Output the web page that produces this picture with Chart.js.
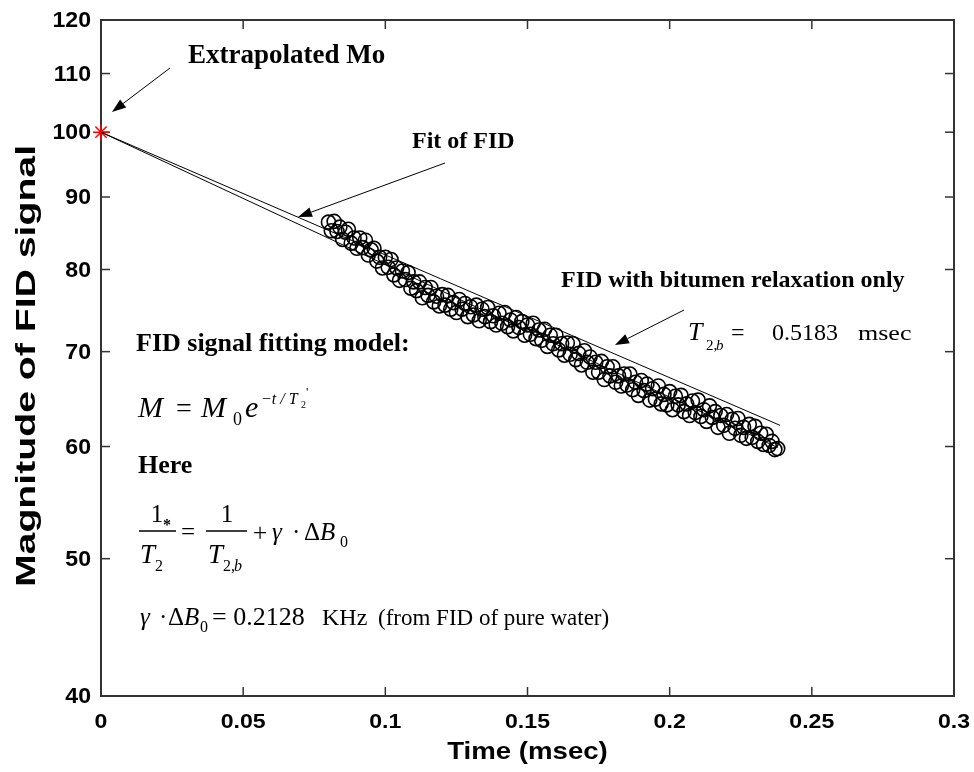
<!DOCTYPE html>
<html>
<head>
<meta charset="utf-8">
<script src="https://cdn.jsdelivr.net/npm/chart.js@4.4.1/dist/chart.umd.min.js"></script>
<style>
html, body { margin: 0; padding: 0; background: #fff; }
canvas { display: block; }
</style>
</head>
<body>
<canvas id="chart" width="974" height="772"></canvas>
<script>
// FID magnitude, one sample every 0.001 msec starting at 0.080 msec
const sampleStart = 0.080;
const sampleStep = 0.001;
const fidValues = [
    86.4, 85.2, 86.5, 85.1, 85.7, 84.0, 85.0, 85.4, 83.5, 84.2,
    82.8, 84.2, 82.9, 83.9, 81.9, 82.6, 82.8, 81.1, 81.6, 80.2,
    81.6, 80.3, 81.3, 79.3, 80.2, 78.6, 79.8, 78.7, 79.6, 77.6,
    78.4, 77.3, 78.4, 76.4, 77.7, 76.7, 77.7, 75.9, 76.6, 75.4,
    76.8, 75.5, 76.7, 75.0, 75.8, 74.6, 76.2, 75.0, 75.7, 74.1,
    75.3, 74.3, 75.5, 73.6, 75.0, 74.1, 75.2, 73.5, 74.2, 73.1,
    74.5, 73.3, 74.6, 72.9, 73.7, 72.4, 74.0, 72.8, 73.5, 71.9,
    73.1, 72.0, 73.3, 71.5, 72.5, 71.3, 72.6, 70.6, 71.9, 70.9,
    71.9, 70.2, 70.9, 69.6, 71.0, 69.7, 70.9, 69.1, 69.8, 68.5,
    70.1, 68.8, 69.4, 67.7, 68.8, 67.7, 68.9, 66.9, 68.3, 67.3,
    68.3, 66.6, 67.3, 66.2, 67.5, 66.3, 67.5, 65.8, 66.6, 65.2,
    66.8, 65.7, 66.4, 64.7, 65.9, 64.8, 66.2, 64.3, 65.3, 64.2,
    65.6, 63.7, 65.1, 64.2, 65.2, 63.5, 64.3, 63.1, 64.6, 63.4,
    64.7, 63.0, 63.7, 62.5, 64.1, 62.9, 63.5, 61.9, 63.1, 62.1,
    63.2, 61.3, 62.7, 61.8, 62.8, 61.1, 61.9, 60.8, 62.2, 60.9,
    62.0, 60.5, 61.3, 60.2, 61.2, 60.1, 60.5, 59.7, 59.8
];
// fitted FID curve and bitumen-only curve (straight on the log axis)
const fitTimes = [0, 0.238];
const fitValues = [100, 59.9];
const bitumenTimes = [0, 0.2388];
const bitumenValues = [100, 62.1];
// extrapolated Mo
const m0Times = [0];
const m0Values = [100];
// axis ticks
const xTicks = [0, 0.05, 0.1, 0.15, 0.2, 0.25, 0.3];
const xTickLabels = ['0', '0.05', '0.1', '0.15', '0.2', '0.25', '0.3'];
const yTicks = [40, 50, 60, 70, 80, 90, 100, 110, 120];
const yTickLabels = ['40', '50', '60', '70', '80', '90', '100', '110', '120'];

const toPoints = (xs, ys) => xs.map((x, i) => ({ x: x, y: ys[i] }));
const fidPoints = fidValues.map((v, i) => ({ x: +(sampleStart + i * sampleStep).toFixed(3), y: v }));

const SANS = '"Liberation Sans", Arial, sans-serif';
const SERIF = '"Liberation Serif", "Times New Roman", serif';

function text(ctx, str, x, y, font, opts) {
    opts = opts || {};
    ctx.save();
    ctx.font = font;
    ctx.fillStyle = '#000';
    ctx.textAlign = opts.align || 'left';
    ctx.textBaseline = opts.baseline || 'alphabetic';
    ctx.translate(x, y);
    if (opts.rot) ctx.rotate(opts.rot);
    ctx.scale(opts.sx || 1, 1);
    ctx.fillText(str, 0, 0);
    ctx.restore();
}

function line(ctx, x1, y1, x2, y2) {
    ctx.beginPath();
    ctx.moveTo(x1, y1);
    ctx.lineTo(x2, y2);
    ctx.stroke();
}

function arrow(ctx, x1, y1, x2, y2) {
    const ang = Math.atan2(y2 - y1, x2 - x1);
    const len = 14, half = 5;
    const bx = x2 - len * Math.cos(ang), by = y2 - len * Math.sin(ang);
    ctx.save();
    ctx.strokeStyle = '#000';
    ctx.fillStyle = '#000';
    ctx.lineWidth = 1;
    line(ctx, x1, y1, bx, by);
    ctx.beginPath();
    ctx.moveTo(x2, y2);
    ctx.lineTo(bx - half * Math.sin(ang), by + half * Math.cos(ang));
    ctx.lineTo(bx + half * Math.sin(ang), by - half * Math.cos(ang));
    ctx.closePath();
    ctx.fill();
    ctx.restore();
}

const framePlugin = {
    id: 'frame',
    beforeDatasetsDraw(chart) {
        const ctx = chart.ctx, a = chart.chartArea;
        const xs = chart.scales.x, ys = chart.scales.y;
        ctx.save();
        ctx.strokeStyle = '#333';
        ctx.lineWidth = 2;
        ctx.strokeRect(a.left, a.top, a.right - a.left, a.bottom - a.top);
        ctx.lineWidth = 1.5;
        xTicks.forEach(v => {
            const px = xs.getPixelForValue(v);
            line(ctx, px, a.bottom, px, a.bottom - 9);
            line(ctx, px, a.top, px, a.top + 9);
        });
        yTicks.forEach(v => {
            const py = ys.getPixelForValue(v);
            line(ctx, a.left, py, a.left + 9, py);
            line(ctx, a.right, py, a.right - 9, py);
        });
        ctx.restore();

        // tick labels and axis titles
        xTicks.forEach((v, i) => {
            text(ctx, xTickLabels[i], xs.getPixelForValue(v), a.bottom + 32, 'bold 21px ' + SANS, { align: 'center', sx: 1.1 });
        });
        yTicks.forEach((v, i) => {
            text(ctx, yTickLabels[i], a.left - 10, ys.getPixelForValue(v) + 1, 'bold 22px ' + SANS, { align: 'right', baseline: 'middle', sx: 1.05 });
        });
        text(ctx, 'Time (msec)', (a.left + a.right) / 2, a.bottom + 63, 'bold 24px ' + SANS, { align: 'center', sx: 1.15 });
        text(ctx, 'Magnitude of FID signal', 35, 366, 'bold 28px ' + SANS, { align: 'center', rot: -Math.PI / 2, sx: 1.4 });
    },
    afterDraw(chart) {
        const ctx = chart.ctx;
        const bold = s => 'bold ' + s + 'px ' + SERIF;
        const reg = s => s + 'px ' + SERIF;
        const ital = s => 'italic ' + s + 'px ' + SERIF;

        // labels with arrows
        text(ctx, 'Extrapolated Mo', 188, 63, bold(27));
        arrow(ctx, 170, 68, 112, 112);
        text(ctx, 'Fit of FID', 412, 148, bold(24));
        arrow(ctx, 445, 163, 298, 217);
        text(ctx, 'FID with bitumen relaxation only', 561, 287, bold(24));
        arrow(ctx, 684, 310, 615, 345);

        // T2,b = 0.5183 msec
        text(ctx, 'T', 688, 340, ital(26));
        text(ctx, '2,', 706, 350, reg(15));
        text(ctx, 'b', 716, 350, ital(15));
        text(ctx, '=', 731, 340, reg(24));
        text(ctx, '0.5183', 772, 340, reg(24));
        text(ctx, 'msec', 858, 340, reg(20), { sx: 1.3 });

        // fitting model
        text(ctx, 'FID signal fitting model:', 136, 351, bold(26));
        text(ctx, 'M', 138, 417, ital(30));
        text(ctx, '=', 176, 417, reg(28));
        text(ctx, 'M', 201, 417, ital(30));
        text(ctx, '0', 233, 425, reg(18));
        text(ctx, 'e', 245, 417, ital(30));
        text(ctx, '\u2212t / T', 261, 404, ital(16));
        text(ctx, '2', 301, 408, reg(10));
        text(ctx, '\'', 306, 396, reg(13));

        text(ctx, 'Here', 138, 473, bold(26));

        // 1/T2* = 1/T2,b + gamma dB0
        ctx.save();
        ctx.strokeStyle = '#000';
        ctx.lineWidth = 1.3;
        line(ctx, 139, 531, 176, 531);
        line(ctx, 206, 531, 247, 531);
        ctx.restore();
        text(ctx, '1', 157, 522, reg(25), { align: 'center' });
        text(ctx, 'T', 140, 563, ital(27));
        text(ctx, '2', 155, 571, reg(16));
        text(ctx, '*', 163, 530, bold(16));
        text(ctx, '=', 181, 540, reg(25));
        text(ctx, '1', 227, 522, reg(25), { align: 'center' });
        text(ctx, 'T', 208, 563, ital(27));
        text(ctx, '2,', 223, 571, reg(16));
        text(ctx, 'b', 234, 571, ital(16));
        text(ctx, '+', 253, 541, reg(25));
        text(ctx, '\u03b3', 272, 540, ital(25));
        text(ctx, '\u00b7', 292, 540, reg(25));
        text(ctx, '\u0394', 304, 540, reg(25));
        text(ctx, 'B', 320, 540, ital(25));
        text(ctx, '0', 340, 547, reg(16));

        // gamma dB0 = 0.2128 KHz
        text(ctx, '\u03b3', 140, 625, ital(25));
        text(ctx, '\u00b7', 159, 625, reg(25));
        text(ctx, '\u0394', 168, 625, reg(25));
        text(ctx, 'B', 184, 625, ital(25));
        text(ctx, '0', 200, 632, reg(16));
        text(ctx, '= 0.2128', 212, 625, reg(26));
        text(ctx, 'KHz', 322, 625, reg(24));
        text(ctx, '(from FID of pure water)', 378, 625, reg(23));
    }
};

const ctx = document.getElementById('chart');
const fidChart = new Chart(ctx, {
    type: 'scatter',
    data: {
        datasets: [{
            label: 'Bitumen only',
            data: toPoints(bitumenTimes, bitumenValues),
            showLine: true,
            borderColor: '#000',
            borderWidth: 1,
            pointRadius: 0
        }, {
            label: 'Fit of FID',
            data: toPoints(fitTimes, fitValues),
            showLine: true,
            borderColor: '#000',
            borderWidth: 1,
            pointRadius: 0
        }, {
            label: 'FID',
            data: fidPoints,
            showLine: false,
            pointStyle: 'circle',
            pointRadius: 7,
            borderColor: '#000',
            borderWidth: 1.6,
            backgroundColor: 'rgba(0,0,0,0)'
        }, {
            label: 'Extrapolated Mo',
            data: toPoints(m0Times, m0Values),
            showLine: false,
            pointStyle: 'star',
            pointRadius: 8,
            borderColor: '#ff0000',
            borderWidth: 1.5,
            clip: false
        }]
    },
    options: {
        responsive: false,
        animation: false,
        events: [],
        layout: { padding: { top: 20, right: 20, left: 0, bottom: 0 } },
        plugins: {
            legend: { display: false },
            tooltip: { enabled: false }
        },
        scales: {
            x: {
                type: 'linear',
                min: 0,
                max: 0.3,
                grid: { display: false },
                border: { display: false },
                ticks: { display: false },
                afterBuildTicks: scale => { scale.ticks = xTicks.map(v => ({ value: v })); },
                afterFit: scale => { scale.height = 76; }
            },
            y: {
                type: 'logarithmic',
                min: 40,
                max: 120,
                grid: { display: false },
                border: { display: false },
                ticks: { display: false },
                afterBuildTicks: scale => { scale.ticks = yTicks.map(v => ({ value: v })); },
                afterFit: scale => { scale.width = 101; }
            }
        }
    },
    plugins: [framePlugin]
});
</script>
</body>
</html>
